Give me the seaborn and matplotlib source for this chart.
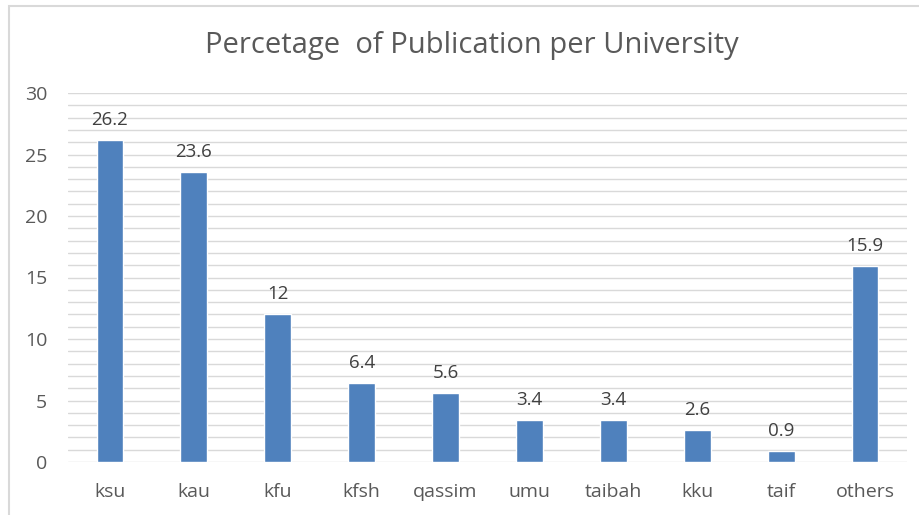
import numpy as np
import pandas as pd
from matplotlib import pyplot as plt
from matplotlib.patches import Rectangle
import seaborn as sns

# data
universities = ['ksu', 'kau', 'kfu', 'kfsh', 'qassim', 'umu', 'taibah', 'kku', 'taif', 'others']
percent = [26.2, 23.6, 12, 6.4, 5.6, 3.4, 3.4, 2.6, 0.9, 15.9]
labels = ['26.2', '23.6', '12', '6.4', '5.6', '3.4', '3.4', '2.6', '0.9', '15.9']

df = pd.DataFrame({'uni': universities, 'pct': percent})

sns.set_style('white')
plt.rcParams['font.family'] = ['Open Sans', 'DejaVu Sans']

fig = plt.figure(figsize=(9.19, 5.15), dpi=100)
# light frame like the excel chart area
fig.patches.append(Rectangle((9 / 919, -0.1), 1.2, 1 - 6 / 515 + 0.1, transform=fig.transFigure,
                             fill=False, edgecolor='#d9d9d9', linewidth=1.5))
ax = fig.add_axes([68 / 919, 1 - 462 / 515, (907 - 68) / 919, (462 - 93) / 515])

sns.barplot(data=df, x='uni', y='pct', color='#4f81bd', width=0.32, saturation=1, ax=ax)
ax.bar_label(ax.containers[0], labels=labels, padding=8, fontsize=13.5, color='#404040')

ax.set_ylim(0, 30)
ax.set_yticks(np.arange(0, 31, 5))
ax.set_yticks(np.arange(0, 31, 1), minor=True)
ax.grid(axis='y', which='both', color='#d9d9d9', linewidth=1)
ax.set_axisbelow(True)
for s in ax.spines.values():
    s.set_visible(False)
ax.tick_params(axis='y', which='both', length=0, pad=15, labelsize=14, labelcolor='#595959')
ax.tick_params(axis='x', length=0, pad=15, labelsize=14, labelcolor='#595959')
ax.set_xlabel('')
ax.set_ylabel('')
ax.set_xlim(-0.5, 9.5)

fig.text(0.514, 1 - 45 / 515, 'Percetage  of Publication per University', ha='center', va='center',
         fontsize=21, color='#595959')

fig.savefig('out.png', dpi=100)
